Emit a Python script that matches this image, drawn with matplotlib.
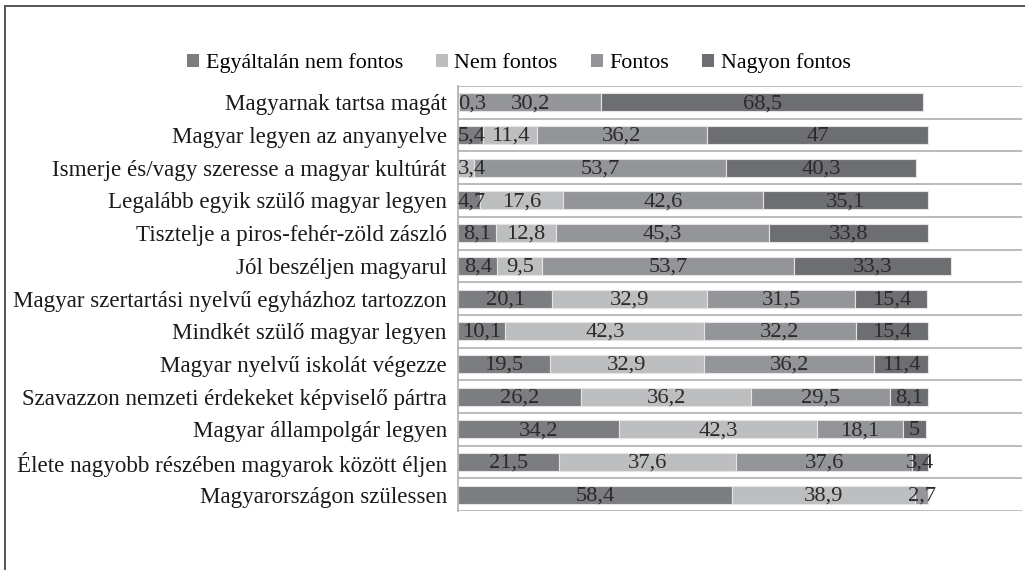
import numpy as np
import matplotlib
matplotlib.use("Agg")
import matplotlib.pyplot as plt
from matplotlib.patches import Patch
from matplotlib.lines import Line2D

categories = [
    "Magyarnak tartsa magát",
    "Magyar legyen az anyanyelve",
    "Ismerje és/vagy szeresse a magyar kultúrát",
    "Legalább egyik szülő magyar legyen",
    "Tisztelje a piros-fehér-zöld zászló",
    "Jól beszéljen magyarul",
    "Magyar szertartási nyelvű egyházhoz tartozzon",
    "Mindkét szülő magyar legyen",
    "Magyar nyelvű iskolát végezze",
    "Szavazzon nemzeti érdekeket képviselő pártra",
    "Magyar állampolgár legyen",
    "Élete nagyobb részében magyarok között éljen",
    "Magyarországon szülessen",
]
series_names = ["Egyáltalán nem fontos", "Nem fontos", "Fontos", "Nagyon fontos"]
egyaltalan = [0, 5.4, 0, 4.7, 8.1, 8.4, 20.1, 10.1, 19.5, 26.2, 34.2, 21.5, 58.4]
nem_fontos = [0.3, 11.4, 3.4, 17.6, 12.8, 9.5, 32.9, 42.3, 32.9, 36.2, 42.3, 37.6, 38.9]
fontos = [30.2, 36.2, 53.7, 42.6, 45.3, 53.7, 31.5, 32.2, 36.2, 29.5, 18.1, 37.6, 2.7]
nagyon = [68.5, 47, 40.3, 35.1, 33.8, 33.3, 15.4, 15.4, 11.4, 8.1, 5, 3.4, 0]

colors = ["#7c7d80", "#bdbec0", "#939598", "#6d6e71"]

plt.rcParams["font.family"] = ["Liberation Serif", "DejaVu Serif"]
plt.rcParams["font.size"] = 16

fig = plt.figure(figsize=(10.25, 5.7), dpi=100)
ax = fig.add_axes([0.4468, 0.1035, 0.5502, 0.7455])

y = np.arange(len(categories))
left = np.zeros(len(categories))
texts = []
for name, vals, col in zip(series_names, [egyaltalan, nem_fontos, fontos, nagyon], colors):
    vals = np.array(vals, dtype=float)
    ax.barh(y, vals, left=left, height=0.55, color=col, edgecolor="#e4e4e4",
            linewidth=0.8, label=name)
    for yi, l, v in zip(y, left, vals):
        if v > 0:
            t = ax.text(l + v / 2, yi + 0.04, f"{v:g}".replace(".", ","), ha="center",
                        va="center", color="#2b2b2b", fontsize=16.2)
            texts.append(t)
    left += vals

ax.set_xlim(0, 120)
ax.set_ylim(len(categories) - 0.5, -0.5)
ax.set_yticks(y)
ax.set_yticklabels(categories, color="#1a1a1a", fontsize=16.6)
ax.tick_params(axis="y", length=0, pad=8)
ax.set_xticks([])

# separators between the rows
for b in np.arange(-0.5, len(categories), 1.0):
    ax.axhline(b, color="#a8a8a8", linewidth=1.1, zorder=0)
for s in ["top", "right", "bottom"]:
    ax.spines[s].set_visible(False)
ax.spines["left"].set_color("#a8a8a8")
ax.spines["left"].set_linewidth(1.1)

# keep data labels inside the plot area (as Excel does)
fig.canvas.draw()
renderer = fig.canvas.get_renderer()
ax_left = ax.get_window_extent(renderer).x0
for t in texts:
    bb = t.get_window_extent(renderer)
    if bb.x0 < ax_left:
        shift = ax_left - bb.x0
        x_disp, y_disp = ax.transData.transform(t.get_position())
        t.set_position(ax.transData.inverted().transform((x_disp + shift, y_disp)))

handles = [Patch(facecolor=c, edgecolor="none") for c in colors]
fig.legend(handles, series_names, loc="center", bbox_to_anchor=(0.506, 0.889),
           ncol=4, frameon=False, handlelength=0.55, handleheight=0.55,
           handletextpad=0.3, columnspacing=1.5, fontsize=15.8)

# outer frame (only top and left edge fall inside the image)
fig.add_artist(Line2D([0.005, 0.005], [0, 0.99], transform=fig.transFigure,
                      color="#555555", linewidth=1.4))
fig.add_artist(Line2D([0.005, 1], [0.99, 0.99], transform=fig.transFigure,
                      color="#555555", linewidth=1.4))

fig.savefig("out.png", dpi=100)
